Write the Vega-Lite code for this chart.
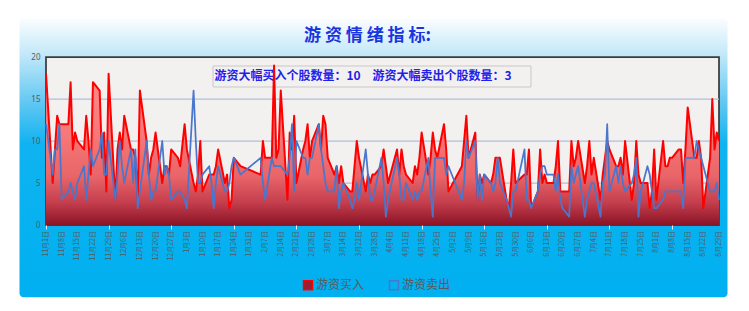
{
  "$schema": "https://vega.github.io/schema/vega-lite/v6.json",
  "width": 673,
  "height": 168,
  "autosize": {"type": "none"},
  "padding": {"left": 46, "top": 57, "right": 30, "bottom": 86},
  "background": "#ffffff",
  "title": {"text": "游 资 情 绪 指 标:", "frame": "group", "anchor": "middle", "dx": -15, "offset": -40, "baseline": "alphabetic", "fontSize": 17, "fontWeight": "bold", "color": "#1a35e0", "font": "Noto Sans CJK SC"},
  "config": {
    "view": {"stroke": null},
    "axisX": {"labels": false, "tickColor": "#d8eef8", "tickSize": 4, "domain": false, "grid": false},
    "axisY": {"grid": false, "ticks": false, "domain": false, "labelPadding": 6, "labelFontSize": 8, "labelColor": "#595959", "labelFont": "Noto Sans"}
  },
  "data": {"values": [
    {"date":"2024-11-01","buy":18,"sell":12},{"date":"2024-11-04","buy":5,"sell":6},{"date":"2024-11-05","buy":9,"sell":9},{"date":"2024-11-06","buy":13,"sell":9},{"date":"2024-11-07","buy":12,"sell":12},{"date":"2024-11-08","buy":12,"sell":3},
    {"date":"2024-11-11","buy":12,"sell":4},{"date":"2024-11-12","buy":17,"sell":5},{"date":"2024-11-13","buy":9,"sell":4},{"date":"2024-11-14","buy":11,"sell":3},{"date":"2024-11-15","buy":10,"sell":5},
    {"date":"2024-11-18","buy":9,"sell":7},{"date":"2024-11-19","buy":13,"sell":3},{"date":"2024-11-20","buy":10,"sell":6},{"date":"2024-11-21","buy":6,"sell":9},{"date":"2024-11-22","buy":17,"sell":7},
    {"date":"2024-11-25","buy":16,"sell":9},{"date":"2024-11-26","buy":8,"sell":11},{"date":"2024-11-27","buy":11,"sell":6},{"date":"2024-11-28","buy":4,"sell":6},{"date":"2024-11-29","buy":18,"sell":10},
    {"date":"2024-12-02","buy":3,"sell":3},{"date":"2024-12-03","buy":9,"sell":6},{"date":"2024-12-04","buy":11,"sell":10},{"date":"2024-12-05","buy":9,"sell":7},{"date":"2024-12-06","buy":13,"sell":5},
    {"date":"2024-12-09","buy":9,"sell":9},{"date":"2024-12-10","buy":9,"sell":5},{"date":"2024-12-11","buy":8,"sell":9},{"date":"2024-12-12","buy":3,"sell":2},{"date":"2024-12-13","buy":16,"sell":4},
    {"date":"2024-12-16","buy":10,"sell":10},{"date":"2024-12-17","buy":6,"sell":6},{"date":"2024-12-18","buy":8,"sell":3},{"date":"2024-12-19","buy":9,"sell":4},{"date":"2024-12-20","buy":11,"sell":4},
    {"date":"2024-12-23","buy":5,"sell":10},{"date":"2024-12-24","buy":7,"sell":6},{"date":"2024-12-25","buy":7,"sell":7},{"date":"2024-12-26","buy":6,"sell":6},{"date":"2024-12-27","buy":9,"sell":3},
    {"date":"2024-12-30","buy":8,"sell":4},{"date":"2024-12-31","buy":7,"sell":4},{"date":"2025-01-02","buy":12,"sell":3},{"date":"2025-01-03","buy":9,"sell":2},
    {"date":"2025-01-06","buy":5,"sell":16},{"date":"2025-01-07","buy":4,"sell":10},{"date":"2025-01-08","buy":6,"sell":5},{"date":"2025-01-09","buy":10,"sell":5},{"date":"2025-01-10","buy":4,"sell":6},
    {"date":"2025-01-13","buy":6,"sell":7},{"date":"2025-01-14","buy":6,"sell":5},{"date":"2025-01-15","buy":6,"sell":2},{"date":"2025-01-16","buy":7,"sell":5},{"date":"2025-01-17","buy":9,"sell":7},
    {"date":"2025-01-20","buy":5,"sell":4},{"date":"2025-01-21","buy":6,"sell":4},{"date":"2025-01-22","buy":2,"sell":5},{"date":"2025-01-23","buy":3,"sell":7},{"date":"2025-01-24","buy":8,"sell":8},
    {"date":"2025-01-27","buy":7,"sell":6},
    {"date":"2025-02-05","buy":6,"sell":8},{"date":"2025-02-06","buy":10,"sell":5},{"date":"2025-02-07","buy":8,"sell":3},
    {"date":"2025-02-10","buy":8,"sell":8},{"date":"2025-02-11","buy":19,"sell":7},{"date":"2025-02-12","buy":8,"sell":7},{"date":"2025-02-13","buy":9,"sell":7},{"date":"2025-02-14","buy":16,"sell":7},
    {"date":"2025-02-17","buy":3,"sell":6},{"date":"2025-02-18","buy":11,"sell":8},{"date":"2025-02-19","buy":9,"sell":12},{"date":"2025-02-20","buy":13,"sell":4},{"date":"2025-02-21","buy":5,"sell":10},
    {"date":"2025-02-24","buy":9,"sell":8},{"date":"2025-02-25","buy":10,"sell":8},{"date":"2025-02-26","buy":12,"sell":6},{"date":"2025-02-27","buy":8,"sell":8},{"date":"2025-02-28","buy":10,"sell":8},
    {"date":"2025-03-03","buy":12,"sell":12},{"date":"2025-03-04","buy":9,"sell":9},{"date":"2025-03-05","buy":13,"sell":7},{"date":"2025-03-06","buy":12,"sell":5},{"date":"2025-03-07","buy":8,"sell":4},
    {"date":"2025-03-10","buy":6,"sell":4},{"date":"2025-03-11","buy":7,"sell":7},{"date":"2025-03-12","buy":5,"sell":2},{"date":"2025-03-13","buy":7,"sell":4},{"date":"2025-03-14","buy":5,"sell":5},
    {"date":"2025-03-17","buy":4,"sell":3},{"date":"2025-03-18","buy":4,"sell":2},{"date":"2025-03-19","buy":7,"sell":3},{"date":"2025-03-20","buy":10,"sell":5},{"date":"2025-03-21","buy":8,"sell":3},
    {"date":"2025-03-24","buy":4,"sell":9},{"date":"2025-03-25","buy":6,"sell":6},{"date":"2025-03-26","buy":5,"sell":3},{"date":"2025-03-27","buy":6,"sell":3},{"date":"2025-03-28","buy":6,"sell":4},
    {"date":"2025-03-31","buy":7,"sell":8},{"date":"2025-04-01","buy":9,"sell":5},{"date":"2025-04-02","buy":7,"sell":1},{"date":"2025-04-03","buy":5,"sell":3},
    {"date":"2025-04-07","buy":9,"sell":8},{"date":"2025-04-08","buy":6,"sell":6},{"date":"2025-04-09","buy":9,"sell":3},{"date":"2025-04-10","buy":7,"sell":3},{"date":"2025-04-11","buy":6,"sell":5},
    {"date":"2025-04-14","buy":5,"sell":3},{"date":"2025-04-15","buy":7,"sell":4},{"date":"2025-04-16","buy":6,"sell":3},{"date":"2025-04-17","buy":8,"sell":4},{"date":"2025-04-18","buy":11,"sell":4},
    {"date":"2025-04-21","buy":6,"sell":8},{"date":"2025-04-22","buy":8,"sell":4},{"date":"2025-04-23","buy":11,"sell":1},{"date":"2025-04-24","buy":9,"sell":8},{"date":"2025-04-25","buy":8,"sell":8},
    {"date":"2025-04-28","buy":12,"sell":8},{"date":"2025-04-29","buy":9,"sell":6},{"date":"2025-04-30","buy":4,"sell":7},
    {"date":"2025-05-06","buy":7,"sell":3},{"date":"2025-05-07","buy":10,"sell":5},{"date":"2025-05-08","buy":13,"sell":10},{"date":"2025-05-09","buy":8,"sell":8},
    {"date":"2025-05-12","buy":11,"sell":10},{"date":"2025-05-13","buy":3,"sell":3},{"date":"2025-05-14","buy":6,"sell":6},{"date":"2025-05-15","buy":5,"sell":3},{"date":"2025-05-16","buy":6,"sell":6},
    {"date":"2025-05-19","buy":5,"sell":5},{"date":"2025-05-20","buy":6,"sell":4},{"date":"2025-05-21","buy":8,"sell":5},{"date":"2025-05-22","buy":8,"sell":8},{"date":"2025-05-23","buy":8,"sell":5},
    {"date":"2025-05-26","buy":3,"sell":3},{"date":"2025-05-27","buy":2,"sell":2},{"date":"2025-05-28","buy":5,"sell":1},{"date":"2025-05-29","buy":9,"sell":4},{"date":"2025-05-30","buy":5,"sell":4},
    {"date":"2025-06-03","buy":6,"sell":9},{"date":"2025-06-04","buy":6,"sell":3},{"date":"2025-06-05","buy":9,"sell":3},{"date":"2025-06-06","buy":2,"sell":2},
    {"date":"2025-06-09","buy":4,"sell":4},{"date":"2025-06-10","buy":9,"sell":6},{"date":"2025-06-11","buy":5,"sell":7},{"date":"2025-06-12","buy":6,"sell":7},{"date":"2025-06-13","buy":5,"sell":6},
    {"date":"2025-06-16","buy":5,"sell":6},{"date":"2025-06-17","buy":7,"sell":4},{"date":"2025-06-18","buy":10,"sell":6},{"date":"2025-06-19","buy":4,"sell":3},{"date":"2025-06-20","buy":4,"sell":2},
    {"date":"2025-06-23","buy":4,"sell":1},{"date":"2025-06-24","buy":10,"sell":7},{"date":"2025-06-25","buy":7,"sell":5},{"date":"2025-06-26","buy":8,"sell":6},{"date":"2025-06-27","buy":10,"sell":7},
    {"date":"2025-06-30","buy":5,"sell":1},{"date":"2025-07-01","buy":7,"sell":3},{"date":"2025-07-02","buy":10,"sell":4},{"date":"2025-07-03","buy":6,"sell":5},{"date":"2025-07-04","buy":8,"sell":5},
    {"date":"2025-07-07","buy":3,"sell":1},{"date":"2025-07-08","buy":6,"sell":5},{"date":"2025-07-09","buy":8,"sell":6},{"date":"2025-07-10","buy":10,"sell":12},{"date":"2025-07-11","buy":9,"sell":4},
    {"date":"2025-07-14","buy":7,"sell":7},{"date":"2025-07-15","buy":7,"sell":5},{"date":"2025-07-16","buy":8,"sell":7},{"date":"2025-07-17","buy":6,"sell":5},{"date":"2025-07-18","buy":10,"sell":4},
    {"date":"2025-07-21","buy":3,"sell":5},{"date":"2025-07-22","buy":5,"sell":6},{"date":"2025-07-23","buy":10,"sell":8},{"date":"2025-07-24","buy":6,"sell":1},{"date":"2025-07-25","buy":5,"sell":4},
    {"date":"2025-07-28","buy":5,"sell":7},{"date":"2025-07-29","buy":2,"sell":6},{"date":"2025-07-30","buy":4,"sell":4},{"date":"2025-07-31","buy":9,"sell":2},{"date":"2025-08-01","buy":3,"sell":2},
    {"date":"2025-08-04","buy":10,"sell":3},{"date":"2025-08-05","buy":7,"sell":4},{"date":"2025-08-06","buy":7,"sell":4},{"date":"2025-08-07","buy":8,"sell":4},{"date":"2025-08-08","buy":8,"sell":4},
    {"date":"2025-08-11","buy":9,"sell":4},{"date":"2025-08-12","buy":9,"sell":4},{"date":"2025-08-13","buy":5,"sell":2},{"date":"2025-08-14","buy":9,"sell":8},{"date":"2025-08-15","buy":14,"sell":8},
    {"date":"2025-08-18","buy":8,"sell":8},{"date":"2025-08-19","buy":8,"sell":10},{"date":"2025-08-20","buy":10,"sell":9},{"date":"2025-08-21","buy":8,"sell":8},{"date":"2025-08-22","buy":2,"sell":7},
    {"date":"2025-08-25","buy":8,"sell":4},{"date":"2025-08-26","buy":15,"sell":4},{"date":"2025-08-27","buy":9,"sell":4},{"date":"2025-08-28","buy":11,"sell":5},{"date":"2025-08-29","buy":10,"sell":3}
  ]},
  "layer": [
    {
      "data": {"values": [{}]},
      "mark": {"type": "rect", "cornerRadius": 4, "fill": {"gradient": "linear", "x1": 0, "y1": 0, "x2": 0, "y2": 1, "stops": [{"offset": 0, "color": "#fbfdff"}, {"offset": 0.13, "color": "#c2e8f9"}, {"offset": 0.3, "color": "#62c8f2"}, {"offset": 0.45, "color": "#0fb3f0"}, {"offset": 1, "color": "#00b0f0"}]}},
      "encoding": {
        "x": {"datum": {"year": 2024, "month": 10, "date": 20, "hours": 3, "minutes": 36, "utc": true}, "type": "temporal", "title": null,
          "scale": {"type": "utc", "domain": [{"year": 2024, "month": 11, "date": 1, "utc": true}, {"year": 2025, "month": 8, "date": 29, "utc": true}], "nice": false},
          "axis": {"values": [
            {"year":2024,"month":11,"date":1,"utc":true},{"year":2024,"month":11,"date":8,"utc":true},{"year":2024,"month":11,"date":15,"utc":true},{"year":2024,"month":11,"date":22,"utc":true},{"year":2024,"month":11,"date":29,"utc":true},
            {"year":2024,"month":12,"date":6,"utc":true},{"year":2024,"month":12,"date":13,"utc":true},{"year":2024,"month":12,"date":20,"utc":true},{"year":2024,"month":12,"date":27,"utc":true},
            {"year":2025,"month":1,"date":3,"utc":true},{"year":2025,"month":1,"date":10,"utc":true},{"year":2025,"month":1,"date":17,"utc":true},{"year":2025,"month":1,"date":24,"utc":true},{"year":2025,"month":1,"date":31,"utc":true},
            {"year":2025,"month":2,"date":7,"utc":true},{"year":2025,"month":2,"date":14,"utc":true},{"year":2025,"month":2,"date":21,"utc":true},{"year":2025,"month":2,"date":28,"utc":true},
            {"year":2025,"month":3,"date":7,"utc":true},{"year":2025,"month":3,"date":14,"utc":true},{"year":2025,"month":3,"date":21,"utc":true},{"year":2025,"month":3,"date":28,"utc":true},
            {"year":2025,"month":4,"date":4,"utc":true},{"year":2025,"month":4,"date":11,"utc":true},{"year":2025,"month":4,"date":18,"utc":true},{"year":2025,"month":4,"date":25,"utc":true},
            {"year":2025,"month":5,"date":2,"utc":true},{"year":2025,"month":5,"date":9,"utc":true},{"year":2025,"month":5,"date":16,"utc":true},{"year":2025,"month":5,"date":23,"utc":true},{"year":2025,"month":5,"date":30,"utc":true},
            {"year":2025,"month":6,"date":6,"utc":true},{"year":2025,"month":6,"date":13,"utc":true},{"year":2025,"month":6,"date":20,"utc":true},{"year":2025,"month":6,"date":27,"utc":true},
            {"year":2025,"month":7,"date":4,"utc":true},{"year":2025,"month":7,"date":11,"utc":true},{"year":2025,"month":7,"date":18,"utc":true},{"year":2025,"month":7,"date":25,"utc":true},
            {"year":2025,"month":8,"date":1,"utc":true},{"year":2025,"month":8,"date":8,"utc":true},{"year":2025,"month":8,"date":15,"utc":true},{"year":2025,"month":8,"date":22,"utc":true},{"year":2025,"month":8,"date":29,"utc":true}
          ],
          "labels": false, "zindex": 1}
        },
        "x2": {"datum": {"year": 2025, "month": 9, "date": 1, "hours": 19, "minutes": 12, "utc": true}},
        "y": {"datum": 24.6, "type": "quantitative", "title": null, "scale": {"domain": [0, 20], "nice": false},
          "axis": {"values": [0, 5, 10, 15, 20], "zindex": 1}},
        "y2": {"datum": -8.6}
      }
    },
    {
      "data": {"values": [{}]},
      "mark": {"type": "rect", "fill": "#f3f1ef", "stroke": "#3c3c3c", "strokeWidth": 1.75},
      "encoding": {
        "x": {"datum": {"year": 2024, "month": 11, "date": 1, "utc": true}, "type": "temporal", "title": null, "axis": {"labels": false, "zindex": 1}},
        "x2": {"datum": {"year": 2025, "month": 8, "date": 29, "utc": true}},
        "y": {"datum": 0, "type": "quantitative", "title": null, "axis": {"zindex": 1}},
        "y2": {"datum": 20}
      }
    },
    {
      "data": {"values": [{"level": 5}, {"level": 10}, {"level": 15}]},
      "mark": {"type": "rule", "stroke": "#aebfe0", "strokeWidth": 1.25},
      "encoding": {"y": {"field": "level", "type": "quantitative", "title": null, "axis": {"zindex": 1}}}
    },
    {
      "data": {"values": [
        {"tick":"2024-11-01","label":"11月1日"},{"tick":"2024-11-08","label":"11月8日"},{"tick":"2024-11-15","label":"11月15日"},{"tick":"2024-11-22","label":"11月22日"},{"tick":"2024-11-29","label":"11月29日"},
        {"tick":"2024-12-06","label":"12月6日"},{"tick":"2024-12-13","label":"12月13日"},{"tick":"2024-12-20","label":"12月20日"},{"tick":"2024-12-27","label":"12月27日"},
        {"tick":"2025-01-03","label":"1月3日"},{"tick":"2025-01-10","label":"1月10日"},{"tick":"2025-01-17","label":"1月17日"},{"tick":"2025-01-24","label":"1月24日"},{"tick":"2025-01-31","label":"1月31日"},
        {"tick":"2025-02-07","label":"2月7日"},{"tick":"2025-02-14","label":"2月14日"},{"tick":"2025-02-21","label":"2月21日"},{"tick":"2025-02-28","label":"2月28日"},
        {"tick":"2025-03-07","label":"3月7日"},{"tick":"2025-03-14","label":"3月14日"},{"tick":"2025-03-21","label":"3月21日"},{"tick":"2025-03-28","label":"3月28日"},
        {"tick":"2025-04-04","label":"4月4日"},{"tick":"2025-04-11","label":"4月11日"},{"tick":"2025-04-18","label":"4月18日"},{"tick":"2025-04-25","label":"4月25日"},
        {"tick":"2025-05-02","label":"5月2日"},{"tick":"2025-05-09","label":"5月9日"},{"tick":"2025-05-16","label":"5月16日"},{"tick":"2025-05-23","label":"5月23日"},{"tick":"2025-05-30","label":"5月30日"},
        {"tick":"2025-06-06","label":"6月6日"},{"tick":"2025-06-13","label":"6月13日"},{"tick":"2025-06-20","label":"6月20日"},{"tick":"2025-06-27","label":"6月27日"},
        {"tick":"2025-07-04","label":"7月4日"},{"tick":"2025-07-11","label":"7月11日"},{"tick":"2025-07-18","label":"7月18日"},{"tick":"2025-07-25","label":"7月25日"},
        {"tick":"2025-08-01","label":"8月1日"},{"tick":"2025-08-08","label":"8月8日"},{"tick":"2025-08-15","label":"8月15日"},{"tick":"2025-08-22","label":"8月22日"},{"tick":"2025-08-29","label":"8月29日"}
      ]},
      "mark": {"type": "text", "angle": 270, "align": "right", "baseline": "middle", "font": "Noto Sans CJK SC", "fontSize": 7, "fill": "#595959"},
      "encoding": {
        "x": {"field": "tick", "type": "temporal", "title": null, "axis": {"labels": false, "zindex": 1}},
        "y": {"datum": -0.72, "type": "quantitative", "title": null, "axis": {"zindex": 1}},
        "text": {"field": "label", "type": "nominal"}
      }
    },
    {
      "data": {"values": [{}]},
      "mark": {"type": "rect", "fill": "#ffffff", "fillOpacity": 0, "stroke": "#c8c8c8", "strokeWidth": 1},
      "encoding": {
        "x": {"datum": {"year": 2025, "month": 1, "date": 14, "hours": 17, "utc": true}, "type": "temporal", "title": null, "axis": {"labels": false, "zindex": 1}},
        "x2": {"datum": {"year": 2025, "month": 6, "date": 5, "hours": 22, "utc": true}},
        "y": {"datum": 18.93, "type": "quantitative", "title": null, "axis": {"zindex": 1}},
        "y2": {"datum": 16.43}
      }
    },
    {
      "data": {"values": [{}]},
      "mark": {"type": "text", "text": "游资大幅买入个股数量：10　游资大幅卖出个股数量：3", "font": "Noto Sans CJK SC", "fontSize": 12, "fontWeight": "bold", "fill": "#1f22ea", "align": "center", "baseline": "middle"},
      "encoding": {
        "x": {"datum": {"year": 2025, "month": 3, "date": 22, "hours": 19, "utc": true}, "type": "temporal", "title": null, "axis": {"labels": false, "zindex": 1}},
        "y": {"datum": 17.68, "type": "quantitative", "title": null, "axis": {"zindex": 1}}
      }
    },
    {
      "transform": [{"fold": ["buy", "sell"], "as": ["key", "value"]}],
      "layer": [
        {
          "transform": [{"filter": "datum.key == 'buy'"}],
          "mark": {"type": "area", "interpolate": "linear", "fill": {"gradient": "linear", "x1": 0, "y1": 0, "x2": 0, "y2": 1, "stops": [{"offset": 0, "color": "#ff8e8e"}, {"offset": 0.45, "color": "#f67777"}, {"offset": 0.7, "color": "#e86468"}, {"offset": 0.86, "color": "#c43e4d"}, {"offset": 1, "color": "#8a1426"}]}},
          "encoding": {
            "x": {"field": "date", "type": "temporal", "title": null, "axis": {"labels": false, "zindex": 1}},
            "y": {"field": "value", "type": "quantitative", "title": null, "axis": {"zindex": 1}}
          }
        },
        {
          "transform": [{"filter": "datum.key == 'buy'"}],
          "mark": {"type": "line", "strokeWidth": 2, "strokeJoin": "round", "interpolate": "linear"},
          "encoding": {
            "x": {"field": "date", "type": "temporal", "title": null, "axis": {"labels": false, "zindex": 1}},
            "y": {"field": "value", "type": "quantitative", "title": null, "axis": {"zindex": 1}},
            "stroke": {"field": "key", "type": "nominal", "scale": {"domain": ["buy", "sell"], "range": ["#ff0000", "#4a76cc"]},
              "legend": {"orient": "none", "legendX": 256, "legendY": 222, "direction": "horizontal", "title": null,
                "symbolType": "square", "symbolSize": 80, "symbolStrokeWidth": 1.5,
                "labelFont": "Noto Sans CJK SC", "labelFontSize": 12, "labelColor": "#595959", "labelOffset": 2, "columnPadding": 21,
                "labelExpr": "datum.value == 'buy' ? '游资买入' : '游资卖出'",
                "encode": {"symbols": {"update": {"fill": {"signal": "datum.value == 'buy' ? '#9b1d35' : 'transparent'"}}}}}
            }
          }
        },
        {
          "transform": [{"filter": "datum.key == 'sell'"}],
          "mark": {"type": "line", "strokeWidth": 1.75, "strokeJoin": "round", "interpolate": "linear"},
          "encoding": {
            "x": {"field": "date", "type": "temporal", "title": null, "axis": {"labels": false, "zindex": 1}},
            "y": {"field": "value", "type": "quantitative", "title": null, "axis": {"zindex": 1}},
            "stroke": {"field": "key", "type": "nominal"}
          }
        }
      ]
    }
  ]
}
